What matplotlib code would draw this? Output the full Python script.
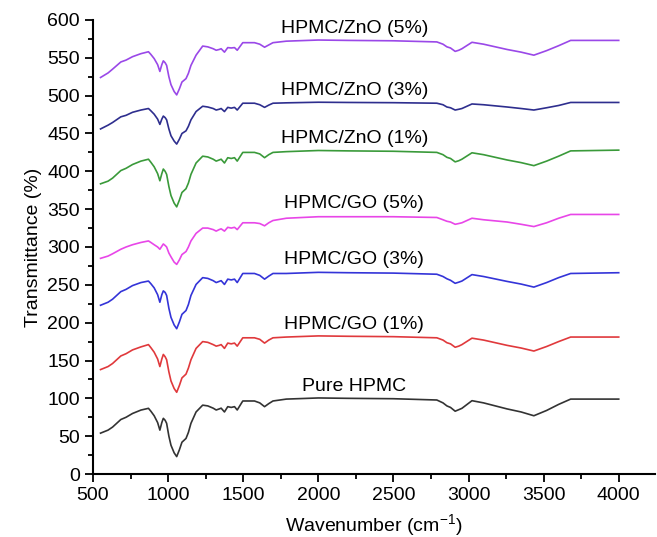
import matplotlib
matplotlib.use("Agg")
import matplotlib.pyplot as plt
from matplotlib.ticker import MultipleLocator

plt.rcParams['font.family'] = ['Liberation Sans', 'DejaVu Sans']
plt.rcParams['mathtext.default'] = 'regular'

# wavenumber grid (cm^-1)
wavenumber = [550, 600, 630, 685, 720, 763, 819, 869, 885, 907,
              930, 945, 958, 968, 980, 990, 1005, 1019, 1040, 1057,
              1075, 1092, 1119, 1135, 1152, 1186, 1230, 1264, 1300, 1320,
              1340, 1353, 1375, 1397, 1420, 1442, 1460, 1497, 1575, 1610,
              1642, 1670, 1698, 1787, 2000, 2200, 2500, 2789, 2830, 2856,
              2880, 2911, 2935, 2956, 3023, 3100, 3257, 3350, 3435, 3520,
              3600, 3680, 4000]

pure_hpmc = [54, 58, 62, 72, 75, 80, 84.5, 86.8, 83, 77,
             68, 58, 68, 73.6, 71, 67, 50, 38, 28, 23,
             32, 42, 47, 55, 67, 82, 91, 90, 87, 84.6,
             86, 87, 82, 89, 88, 89, 84.6, 96.5, 96.5, 94,
             89, 93, 96.5, 99, 100.5, 100, 99.5, 97.8, 94, 90,
             88, 83, 85, 86.8, 96.9, 94, 86, 82, 77, 84,
             92, 99, 99]

go_1 = [138, 142, 146, 156, 159, 164, 168, 171, 167, 161,
        152, 142, 152, 158, 155, 151, 135, 123, 113, 108,
        117, 127, 132, 140, 151, 166, 175, 174, 171, 169,
        170, 171, 166, 173, 172, 173, 169, 180, 180, 178,
        173, 177, 180, 181, 182.5, 182, 181.5, 180, 177, 173.5,
        172, 167.5, 169, 171, 179.5, 177, 170, 166.5, 162.5, 168.5,
        175, 181, 181]

go_3 = [223, 227, 231, 241, 244, 249, 253, 255, 251.5, 246,
        237, 227, 237, 242, 240, 236, 219, 207, 197, 192,
        201, 211, 216, 224, 236, 250.5, 259.5, 258.5, 255.5, 253,
        254.5, 255.5, 250.5, 257.5, 256.5, 257.5, 253, 265, 265, 262.5,
        257.5, 261.5, 265, 265, 266.5, 266, 265.5, 264, 261, 258,
        256, 252, 253.5, 255, 263.5, 261, 254.5, 251, 247, 253,
        259.5, 265, 266]

go_5 = [285, 288, 291, 297, 300, 303, 306, 308, 306, 303,
        300, 297, 301, 304, 302, 300, 292, 287, 280, 277,
        283, 290, 294, 300, 308, 318, 325, 325, 323, 321,
        323, 324, 321, 326, 325, 326, 323, 332, 332, 331,
        328, 332, 335, 338, 340, 340, 340, 339, 336, 334,
        333, 330, 331, 332, 338, 336, 333, 330, 327, 332,
        338, 343, 343]

zno_1 = [383.5, 387, 391, 401, 404, 409, 413.5, 416, 412, 406,
         397, 387.5, 397, 403, 400, 396, 380, 368, 358, 353,
         362, 372, 377, 384.5, 396, 411, 420, 419, 416, 413.5,
         415, 416, 411, 418, 417, 418, 413.5, 425, 425, 423,
         418, 422, 425, 426, 427.5, 427, 426.5, 425, 422, 418.5,
         417, 412.5, 414, 416, 424.5, 422, 415, 411.5, 407.5, 413.5,
         420, 427, 428]

zno_3 = [456, 461, 464.5, 472, 474, 478, 481, 483, 480, 475.5,
         469, 462, 469, 473, 471, 468, 456, 447, 440, 436,
         442.5, 450, 453.5, 459.5, 468, 479, 486, 485, 483, 481,
         482, 483, 479, 484.5, 483.5, 484.5, 481, 490, 490, 488,
         484.5, 487.5, 490, 490.5, 491.3, 491, 490.7, 490, 488, 485,
         484, 481, 482, 483, 489, 488, 485, 483, 481, 484,
         487, 491, 491]

zno_5 = [524, 530, 535, 544.5, 547, 551.5, 555.5, 558, 554.5, 549,
         541, 532, 541, 546, 543.5, 540, 525, 514.5, 505.5, 501,
         509, 518, 522.5, 529.5, 540, 553.5, 565.5, 564.5, 562, 560,
         561, 562, 557.5, 563.5, 563, 563.5, 560, 570, 570, 568,
         564, 567, 570, 572, 573.5, 573, 572.5, 571, 568, 564.5,
         563, 558.5, 560, 562, 570.5, 568, 561, 557.5, 553.5, 559.5,
         566, 573, 573]

series = [pure_hpmc, go_1, go_3, go_5, zno_1, zno_3, zno_5]
names = ['Pure HPMC', 'HPMC/GO (1%)', 'HPMC/GO (3%)', 'HPMC/GO (5%)',
         'HPMC/ZnO (1%)', 'HPMC/ZnO (3%)', 'HPMC/ZnO (5%)']
label_y = [115, 197, 283, 357, 444, 507, 589]
colors = ['#333333', '#e0393c', '#3434d8', '#e846e8',
          '#3a9a3a', '#2e2e8e', '#9a48e8']

fig = plt.figure(figsize=(6.57, 5.37), dpi=100)
ax = fig.add_axes([0.1416, 0.1173, 0.855, 0.8455])

for vals, name, ly, c in zip(series, names, label_y, colors):
    ax.plot(wavenumber, vals, color=c, linewidth=1.2)
    ax.text(2240, ly, name, ha='center', va='center', fontsize=14)

ax.set_xlim(500, 4240)
ax.set_ylim(0, 600)
ax.xaxis.set_major_locator(MultipleLocator(500))
ax.xaxis.set_minor_locator(MultipleLocator(250))
ax.yaxis.set_major_locator(MultipleLocator(50))
ax.yaxis.set_minor_locator(MultipleLocator(25))
ax.set_xticks([500, 1000, 1500, 2000, 2500, 3000, 3500, 4000])
ax.tick_params(which='major', direction='out', length=6, width=1.3, labelsize=14)
ax.tick_params(which='minor', direction='out', length=3.5, width=1.3)

for s in ['top', 'right']:
    ax.spines[s].set_visible(False)
for s in ['left', 'bottom']:
    ax.spines[s].set_linewidth(1.5)

ax.set_xlabel('Wavenumber (cm$^{-1}$)', fontsize=14, labelpad=6)
ax.set_ylabel('Transmittance (%)', fontsize=14, labelpad=4)

fig.savefig('out.png', dpi=100)
